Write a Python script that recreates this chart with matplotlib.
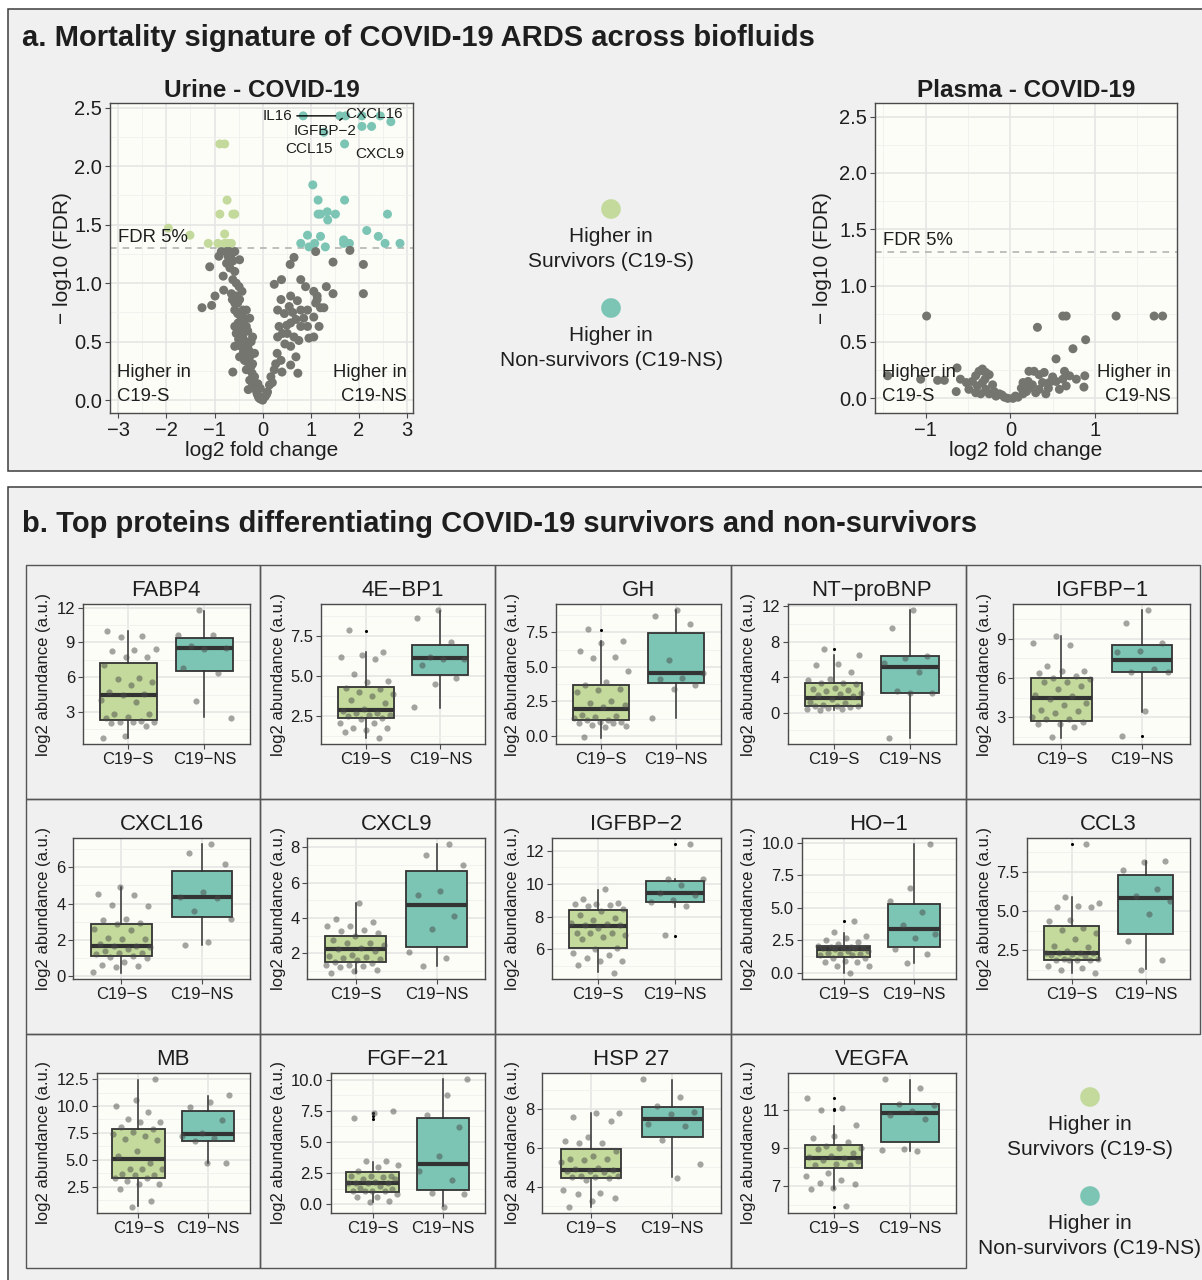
import numpy as np
import matplotlib
matplotlib.use("Agg")
import matplotlib.pyplot as plt
from matplotlib.patches import Rectangle
from matplotlib.ticker import FixedLocator, FormatStrFormatter

plt.rcParams['font.family'] = ['Liberation Sans', 'DejaVu Sans']

# ---------------- data: volcano plots (log2 fold change, -log10 FDR) ----------------
urine_points = [
    # higher in survivors
    (-1.96, 1.47), (-1.51, 1.41), (-1.13, 1.34), (-0.89, 2.19), (-0.79, 2.19), (-0.74, 1.71),
    (-0.89, 1.59), (-0.62, 1.59), (-0.58, 1.59), (-0.79, 1.42), (-0.93, 1.34), (-0.79, 1.34),
    (-0.65, 1.34), (-0.72, 1.34),
    # higher in non-survivors
    (0.84, 2.43), (1.60, 2.43), (1.72, 2.43), (2.06, 2.43), (2.44, 2.43), (2.06, 2.34), (2.26, 2.34),
    (2.66, 2.38), (1.27, 2.29), (1.70, 2.19), (1.04, 1.84), (1.15, 1.71), (1.70, 1.71), (1.15, 1.59),
    (1.20, 1.59), (1.34, 1.61), (1.51, 1.59), (1.35, 1.54), (2.59, 1.59), (0.93, 1.41), (1.20, 1.40),
    (2.16, 1.45), (2.40, 1.40), (0.79, 1.34), (1.08, 1.34), (1.30, 1.31), (1.68, 1.37), (1.68, 1.34),
    (1.80, 1.34), (2.54, 1.34), (2.85, 1.34), (0.96, 1.31),
    # not significant
    (-1.10, 1.14), (-1.26, 0.79), (-1.06, 0.81), (-0.99, 0.89), (-0.82, 1.06), (-0.81, 0.94),
    (-0.91, 1.23), (-0.86, 1.27), (-0.75, 1.27), (-0.69, 1.27), (-0.58, 1.27), (-0.72, 1.23),
    (-0.62, 1.19), (-0.48, 1.20), (-0.58, 1.10), (-0.62, 1.03), (-0.55, 1.00), (-0.49, 0.97),
    (-0.63, 0.86), (-0.58, 0.83), (-0.48, 0.86), (-0.58, 0.77), (-0.45, 0.71), (-0.38, 0.70),
    (-0.27, 0.70), (-0.41, 0.66), (-0.58, 0.63), (-0.55, 0.57), (-0.45, 0.60), (-0.34, 0.63),
    (-0.21, 0.54), (-0.41, 0.53), (-0.58, 0.46), (-0.45, 0.46), (-0.31, 0.46), (-0.48, 0.37),
    (-0.38, 0.34), (-0.27, 0.37), (-0.62, 0.24), (-0.34, 0.26), (-0.24, 0.29), (-0.27, 0.17),
    (-0.21, 0.13), (-0.14, 0.09), (-0.30, 0.09), (-0.10, 0.04), (-0.05, 0.01), (-0.17, 0.20),
    (-0.10, 0.14), (-0.41, 0.77), (-0.51, 0.66), (-0.65, 0.91), (-0.55, 0.89), (-0.34, 0.77),
    (-0.31, 0.59), (-0.24, 0.50), (-0.17, 0.40), (-0.21, 0.31), (-0.05, 0.10), (-0.68, 1.13),
    (-0.75, 1.17), (-0.52, 0.74), (-0.44, 0.56), (-0.36, 0.50), (-0.28, 0.42), (-0.22, 0.23),
    (-0.12, 0.06), (-0.08, 0.02), (-0.50, 0.52), (-0.40, 0.41), (-0.33, 0.33), (-0.66, 1.22),
    (-0.52, 0.83), (-0.46, 0.64), (-0.39, 0.58), (-0.30, 0.36), (-0.18, 0.16), (-0.43, 0.93),
    (0.00, 0.00), (0.05, 0.03), (0.10, 0.07), (0.14, 0.13), (0.17, 0.20), (0.24, 0.26), (0.27, 0.31),
    (0.38, 0.34), (0.58, 0.30), (0.73, 0.23), (0.69, 0.37), (0.58, 0.46), (0.31, 0.54), (0.41, 0.57),
    (0.51, 0.57), (0.65, 0.54), (0.75, 0.51), (0.34, 0.63), (0.58, 0.66), (0.69, 0.69), (0.79, 0.63),
    (0.93, 0.77), (1.06, 0.71), (1.17, 0.63), (0.96, 0.53), (1.06, 0.54), (0.31, 0.77), (0.45, 0.74),
    (0.55, 0.80), (0.38, 0.86), (0.58, 0.89), (0.24, 0.99), (0.39, 1.03), (0.79, 1.03), (0.89, 0.97),
    (0.57, 1.16), (0.65, 1.22), (1.10, 1.27), (1.06, 0.93), (1.13, 0.89), (1.10, 0.83), (1.20, 0.79),
    (1.27, 0.79), (1.13, 0.86), (1.32, 0.97), (1.46, 0.91), (1.46, 1.18), (1.81, 1.28), (2.09, 1.16),
    (2.09, 0.91), (0.79, 0.77), (0.93, 0.63), (0.08, 0.05), (0.20, 0.15), (0.30, 0.40), (0.46, 0.48),
    (0.50, 0.64), (0.62, 0.75), (0.72, 0.85), (0.85, 0.70), (0.40, 0.24),
]

plasma_points = [
    (-0.99, 0.73), (-1.45, 0.20), (-1.06, 0.17), (-0.86, 0.16), (-0.78, 0.16), (-0.63, 0.27),
    (-0.64, 0.06), (-0.59, 0.17), (-0.49, 0.08), (-0.45, 0.15), (-0.41, 0.20), (-0.37, 0.24),
    (-0.33, 0.26), (-0.29, 0.23), (-0.25, 0.21), (-0.33, 0.14), (-0.39, 0.11), (-0.29, 0.08),
    (-0.21, 0.12), (-0.19, 0.06), (-0.13, 0.04), (-0.07, 0.01), (-0.03, 0.00), (-0.52, 0.14),
    (-0.41, 0.05), (-0.25, 0.04), (-0.17, 0.02), (-0.35, 0.04), (-0.10, 0.03), (-0.30, 0.17),
    (0.03, 0.00), (0.09, 0.01), (0.15, 0.04), (0.19, 0.06), (0.22, 0.09), (0.15, 0.14), (0.22, 0.24),
    (0.28, 0.24), (0.34, 0.21), (0.40, 0.23), (0.32, 0.63), (0.46, 0.14), (0.42, 0.04), (0.34, 0.08),
    (0.26, 0.12), (0.38, 0.14), (0.54, 0.35), (0.62, 0.73), (0.66, 0.73), (0.64, 0.24), (0.62, 0.17),
    (0.58, 0.08), (0.54, 0.15), (0.50, 0.19), (0.74, 0.44), (0.89, 0.52), (0.88, 0.20), (0.87, 0.10),
    (0.78, 0.17), (1.25, 0.73), (1.70, 0.73), (1.80, 0.73), (0.66, 0.11), (0.13, 0.09), (0.21, 0.15),
    (0.06, 0.02), (0.30, 0.05), (0.45, 0.09), (0.70, 0.20),
]

# labelled genes in the urine volcano
urine_labels = ["IL16", "CXCL16", "IGFBP\u22122", "CCL15", "CXCL9"]
urine_label_pts = [(1.60, 2.43), (2.06, 2.43), (1.72, 2.43), (1.70, 2.19), (2.26, 2.34)]

# ---------------- data: boxplots (log2 abundance) ----------------
proteins = ["FABP4", "4E\u2212BP1", "GH", "NT\u2212proBNP", "IGFBP\u22121",
            "CXCL16", "CXCL9", "IGFBP\u22122", "HO\u22121", "CCL3",
            "MB", "FGF\u221221", "HSP 27", "VEGFA"]
groups = ["C19\u2212S", "C19\u2212NS"]

fabp4_s = [10.02, 9.56, 9.44, 8.43, 8.35, 8.29, 7.77, 7.74, 7.02, 5.93, 5.84, 5.55, 5.36, 4.72, 4.52,
           4.43, 4.03, 3.86, 2.85, 2.80, 2.60, 2.45, 2.22, 2.16, 2.16, 2.16, 2.02, 1.82, 0.93, 0.78]
fabp4_ns = [11.77, 9.67, 9.61, 8.69, 8.50, 8.43, 6.82, 6.39, 3.98, 2.48]
eb41_s = [7.85, 6.50, 6.29, 6.21, 6.06, 5.13, 4.67, 4.63, 4.23, 4.15, 3.98, 3.87, 3.73, 3.46, 3.31, 2.90,
          2.77, 2.69, 2.65, 2.52, 2.52, 2.48, 2.38, 2.31, 2.06, 2.06, 1.73, 1.73, 1.60, 1.46, 1.13]
eb41_ns = [9.10, 8.65, 7.13, 6.21, 6.08, 6.08, 5.65, 4.88, 4.52, 3.02]
gh_s = [7.72, 6.85, 6.73, 6.15, 5.72, 5.62, 4.68, 3.89, 3.67, 3.43, 3.36, 3.19, 2.56, 2.39, 2.25, 2.08,
        1.55, 1.48, 1.38, 1.28, 1.19, 1.19, 1.02, 1.02, 0.95, 0.95, 0.83, 0.70, 0.63, -0.10]
gh_ns = [9.09, 8.70, 8.10, 5.52, 4.58, 4.20, 4.13, 3.72, 3.40, 1.31]
bnp_s = [7.20, 6.53, 5.55, 5.33, 4.58, 3.83, 3.68, 3.38, 3.30, 3.19, 2.81, 2.63, 2.51, 2.44, 2.25, 2.06,
         1.99, 1.88, 1.50, 1.20, 1.13, 0.83, 0.75, 0.75, 0.75, 0.64, 0.56, 0.41, 0.41, 0.30]
bnp_ns = [11.55, 9.60, 6.38, 6.22, 5.63, 4.65, 2.40, 2.18, 2.18, -2.81]
igfbp1_s = [9.20, 8.67, 8.49, 6.90, 6.57, 6.52, 6.39, 6.14, 6.01, 5.94, 5.68, 5.68, 5.38, 5.18, 4.70,
            4.62, 4.37, 4.06, 3.91, 3.56, 3.48, 3.30, 3.05, 2.85, 2.85, 2.65, 2.52, 2.52, 2.29, 1.51]
igfbp1_ns = [11.15, 10.19, 8.67, 8.04, 7.99, 6.70, 6.49, 6.44, 3.46, 1.61]
cxcl16_s = [4.93, 4.50, 4.49, 3.92, 3.85, 3.15, 3.09, 2.91, 2.87, 2.61, 2.56, 2.13, 2.06, 2.06, 1.76,
            1.67, 1.64, 1.62, 1.49, 1.40, 1.30, 1.27, 1.21, 1.12, 1.08, 0.99, 0.79, 0.62, 0.55, 0.53, 0.22]
cxcl16_ns = [7.25, 6.77, 6.18, 4.66, 4.38, 4.29, 3.57, 3.15, 1.89, 1.73]
cxcl9_s = [4.86, 3.93, 3.76, 3.55, 3.53, 3.34, 3.28, 3.15, 2.98, 2.77, 2.58, 2.58, 2.49, 2.30, 2.24,
           2.15, 1.92, 1.86, 1.83, 1.77, 1.71, 1.64, 1.54, 1.48, 1.35, 1.35, 1.30, 1.26, 1.09, 1.01, 0.92]
cxcl9_ns = [8.17, 7.55, 7.00, 5.52, 5.31, 4.14, 3.40, 2.09, 1.73, 1.30]
igfbp2_s = [9.66, 9.09, 8.83, 8.75, 8.75, 8.69, 8.61, 8.48, 8.32, 8.08, 7.89, 7.79, 7.63, 7.57, 7.47,
            7.47, 7.33, 7.02, 6.98, 6.98, 6.90, 6.78, 6.65, 6.11, 6.04, 5.80, 5.64, 5.48, 5.33, 5.29,
            5.07, 4.60]
igfbp2_ns = [12.37, 10.27, 10.25, 9.91, 9.42, 9.30, 8.97, 8.85, 8.61, 6.88]
ho1_s = [4.00, 3.10, 2.84, 2.71, 2.51, 2.33, 2.20, 2.04, 1.99, 1.99, 1.89, 1.89, 1.89, 1.89, 1.81, 1.68,
         1.68, 1.52, 1.47, 1.42, 1.37, 1.34, 1.16, 1.16, 0.90, 0.83, 0.78, 0.52, 0.49, 0.00]
ho1_ns = [9.90, 6.54, 5.50, 4.68, 3.67, 2.97, 2.66, 1.81, 1.42, 0.72]
ccl3_s = [9.22, 5.91, 5.51, 5.30, 5.23, 5.23, 4.43, 4.39, 3.92, 3.81, 3.58, 3.22, 2.80, 2.69, 2.44, 2.37,
          2.31, 2.31, 2.31, 2.27, 2.22, 2.18, 1.95, 1.95, 1.91, 1.91, 1.91, 1.89, 1.50, 1.38, 1.27, 1.10]
ccl3_ns = [8.16, 8.09, 7.61, 6.38, 5.93, 5.66, 4.81, 3.11, 1.89, 1.27]
mb_s = [12.47, 10.59, 10.03, 9.41, 8.77, 8.55, 8.49, 8.06, 7.87, 7.62, 7.38, 7.25, 6.94, 6.88, 5.86,
        5.34, 4.72, 4.17, 4.17, 4.10, 3.70, 3.55, 3.55, 3.30, 3.27, 3.02, 2.75, 2.72, 2.31, 1.17, 0.65]
mb_ns = [11.02, 10.40, 9.88, 8.70, 7.50, 7.25, 7.07, 6.70, 4.66, 4.66]
fgf21_s = [7.48, 7.35, 6.89, 3.46, 3.46, 3.16, 2.98, 2.71, 2.31, 2.31, 2.23, 2.17, 2.04, 1.99, 1.77,
           1.74, 1.72, 1.69, 1.69, 1.50, 1.29, 1.23, 1.10, 1.05, 1.05, 1.05, 0.83, 0.56, 0.56, 0.29, 0.21]
fgf21_ns = [10.03, 8.77, 7.18, 6.17, 3.89, 2.65, 1.98, 0.91, 0.86, -0.19]
hsp27_s = [7.81, 7.79, 7.62, 7.40, 6.55, 6.36, 6.28, 6.28, 5.83, 5.57, 5.41, 5.41, 5.36, 5.29, 4.98,
           4.91, 4.86, 4.83, 4.79, 4.74, 4.57, 4.57, 4.52, 4.48, 4.45, 4.34, 3.84, 3.67, 3.64, 3.43,
           3.26, 2.97]
hsp27_ns = [9.55, 8.62, 8.19, 7.88, 7.76, 7.22, 7.12, 6.41, 5.17, 4.47]
vegfa_s = [11.66, 11.14, 11.03, 10.21, 9.64, 9.55, 9.34, 9.13, 9.03, 9.03, 8.96, 8.78, 8.59, 8.56, 8.47,
           8.38, 8.34, 8.20, 8.12, 8.12, 7.72, 7.56, 7.33, 7.17, 7.10, 6.90, 6.84, 5.95]
vegfa_ns = [12.64, 12.17, 11.33, 11.31, 10.97, 10.74, 10.56, 8.96, 8.90, 8.85]

points_s = [fabp4_s, eb41_s, gh_s, bnp_s, igfbp1_s, cxcl16_s, cxcl9_s, igfbp2_s, ho1_s, ccl3_s,
            mb_s, fgf21_s, hsp27_s, vegfa_s]
points_ns = [fabp4_ns, eb41_ns, gh_ns, bnp_ns, igfbp1_ns, cxcl16_ns, cxcl9_ns, igfbp2_ns, ho1_ns, ccl3_ns,
             mb_ns, fgf21_ns, hsp27_ns, vegfa_ns]

# box statistics (lower whisker, q1, median, q3, upper whisker)
box_s = [(0.78, 2.28, 4.49, 7.23, 9.99), (1.13, 2.33, 2.85, 4.31, 6.48), (-0.12, 1.16, 1.98, 3.69, 6.85),
         (0.30, 0.71, 1.65, 3.30, 6.49), (1.46, 2.75, 4.49, 6.01, 9.18), (0.20, 1.10, 1.69, 2.87, 4.90),
         (0.92, 1.54, 2.24, 3.00, 4.86), (4.62, 6.09, 7.43, 8.40, 9.62), (0.00, 1.19, 1.86, 2.07, 3.02),
         (1.10, 1.91, 2.35, 4.05, 5.87), (0.71, 3.27, 5.03, 7.90, 12.44), (0.16, 1.02, 1.69, 2.57, 3.38),
         (2.97, 4.47, 4.88, 5.93, 7.79), (6.84, 7.98, 8.47, 9.17, 10.18)]
box_ns = [(2.54, 6.51, 8.49, 9.38, 11.71), (3.00, 5.06, 6.10, 6.90, 9.08), (1.33, 3.81, 4.56, 7.45, 9.09),
          (-2.81, 2.21, 5.18, 6.38, 11.55), (3.41, 6.44, 7.35, 8.49, 11.15), (1.73, 3.24, 4.34, 5.80, 7.25),
          (1.30, 2.39, 4.74, 6.64, 8.17), (8.60, 8.85, 9.40, 10.15, 10.27), (0.72, 1.99, 3.36, 5.30, 9.90),
          (1.31, 3.54, 5.81, 7.31, 8.14), (4.66, 6.76, 7.38, 9.57, 10.90), (-0.16, 1.18, 3.27, 6.92, 10.03),
          (4.48, 6.57, 7.48, 8.10, 9.53), (8.85, 9.36, 10.86, 11.33, 12.62)]
outliers_s = [[], [7.83], [7.69], [7.16], [], [], [], [], [4.00], [9.22], [], [7.32, 7.08, 6.81], [],
              [11.65, 11.09, 11.00, 5.93]]
outliers_ns = [[], [], [], [], [1.56], [], [], [12.37, 6.84], [], [], [], [], [], []]

yticks_box = [["3", "6", "9", "12"], ["2.5", "5.0", "7.5"], ["0.0", "2.5", "5.0", "7.5"],
              ["0", "4", "8", "12"], ["3", "6", "9"], ["0", "2", "4", "6"], ["2", "4", "6", "8"],
              ["6", "8", "10", "12"], ["0.0", "2.5", "5.0", "7.5", "10.0"], ["2.5", "5.0", "7.5"],
              ["2.5", "5.0", "7.5", "10.0", "12.5"], ["0.0", "2.5", "5.0", "7.5", "10.0"],
              ["4", "6", "8"], ["7", "9", "11"]]

FDR_LINE = -np.log10(0.05)

# ---------------- style ----------------
GREEN = '#c3da9c'
TEAL = '#7cc5b5'
GREY = '#74756f'
PANEL_BG = '#fdfdf7'
SECTION_BG = '#f0f0f0'
GRID_MAJ = '#e4e4e4'
GRID_MIN = '#efefef'
INK = '#1e1e1e'

W, H = 1202, 1280
fig = plt.figure(figsize=(W / 100, H / 100), dpi=100, facecolor='white')


def px_axes(x0, y0, x1, y1, **kw):
    return fig.add_axes([x0 / W, 1 - y1 / H, (x1 - x0) / W, (y1 - y0) / H], **kw)


def overlay(z):
    ov = px_axes(0, 0, W, H, zorder=z)
    ov.set_xlim(0, W)
    ov.set_ylim(H, 0)
    ov.axis('off')
    return ov


under = overlay(0)

# section frames
for (x0, y0, x1, y1) in [(8, 9, 1212, 471), (8, 487, 1212, 1292)]:
    under.add_patch(Rectangle((x0, y0), x1 - x0, y1 - y0, fc=SECTION_BG, ec='#3c3c3c', lw=1.1))

under.text(22, 46, "a. Mortality signature of COVID-19 ARDS across biofluids",
           fontsize=21, weight='bold', color=INK, ha='left', va='baseline')
under.text(22, 532, "b. Top proteins differentiating COVID-19 survivors and non-survivors",
           fontsize=21, weight='bold', color=INK, ha='left', va='baseline')


def style_panel(ax, size):
    ax.set_facecolor(PANEL_BG)
    for s in ax.spines.values():
        s.set_color('#4a4a4a')
        s.set_linewidth(1.0)
    ax.tick_params(which='major', length=3.5, width=0.8, color='#4a4a4a',
                   labelsize=size, labelcolor=INK, pad=2)
    ax.tick_params(which='minor', length=0)
    ax.set_axisbelow(True)
    ax.grid(which='major', color=GRID_MAJ, lw=1.1)
    ax.grid(which='minor', color=GRID_MIN, lw=0.6)


def minor_between(ticks, lo, hi):
    step = ticks[1] - ticks[0]
    cand = [t - step / 2 for t in ticks] + [ticks[-1] + step / 2]
    return [c for c in cand if lo < c < hi]


def volcano(box, pts, xlim, ylim, xticks, yticks, title, ylab_x):
    ax = px_axes(*box, zorder=2)
    style_panel(ax, 14.5)
    arr = np.array(pts)
    x, y = arr[:, 0], arr[:, 1]
    sig = y > FDR_LINE
    cols = np.where(~sig, GREY, np.where(x < 0, GREEN, TEAL))
    ax.scatter(x, y, s=42, c=cols, lw=0, zorder=3)
    ax.axhline(FDR_LINE, ls=(0, (4, 3.5)), color='#b4b4b4', lw=1.2, zorder=2)
    ax.set_xlim(*xlim)
    ax.set_ylim(*ylim)
    ax.set_xticks(xticks)
    ax.set_yticks(yticks)
    ax.yaxis.set_major_formatter(FormatStrFormatter('%.1f'))
    ax.xaxis.set_minor_locator(FixedLocator(minor_between(xticks, *xlim)))
    ax.yaxis.set_minor_locator(FixedLocator(minor_between(yticks, *ylim)))
    cx = (box[0] + box[2]) / 2
    under.text(cx, 97, title, fontsize=17.5, weight='bold', color=INK, ha='center', va='baseline')
    under.text(cx, 456, "log2 fold change", fontsize=15, color=INK, ha='center', va='baseline')
    under.text(ylab_x, (box[1] + box[3]) / 2, "\u2212 log10 (FDR)", fontsize=15, color=INK,
               rotation=90, ha='center', va='center')
    return ax


urine_box = (110, 103, 413, 413)
plasma_box = (875, 103, 1177, 413)
ax_u = volcano(urine_box, urine_points, (-3.17, 3.12), (-0.11, 2.54),
               [-3, -2, -1, 0, 1, 2, 3], [0.0, 0.5, 1.0, 1.5, 2.0, 2.5], "Urine - COVID-19", 62)
ax_p = volcano(plasma_box, plasma_points, (-1.60, 1.97), (-0.13, 2.62),
               [-1, 0, 1], [0.0, 0.5, 1.0, 1.5, 2.0, 2.5], "Plasma - COVID-19", 822)

# gene labels (offsets in pixels from their point; segment drawn for displaced labels)
label_offsets = [(-62, 0, True), (12, 2, False), (-20, -15, True), (-36, -5, False), (8, -28, False)]
for name, (px_, py_), (dx, dy, seg) in zip(urine_labels, urine_label_pts, label_offsets):
    ax_u.annotate(name, xy=(px_, py_), xytext=(dx * 0.72, dy * 0.72), textcoords='offset points',
                  fontsize=11, color=INK, ha='center', va='center', zorder=5,
                  arrowprops=dict(arrowstyle='-', color='black', lw=1.0, shrinkA=1, shrinkB=3) if seg else None)

for ax, box in [(ax_u, urine_box), (ax_p, plasma_box)]:
    ax.text(8 / 303, FDR_LINE + 0.02, "FDR 5%", transform=ax.get_yaxis_transform(),
            fontsize=13.3, color=INK, ha='left', va='bottom', zorder=5)
    for txt, yb in [("Higher in", 0.115), ("C19-S", 0.04)]:
        ax.text(0.024, yb, txt, transform=ax.transAxes, fontsize=13.3, color=INK, ha='left',
                va='baseline', zorder=5)
    for txt, yb in [("Higher in", 0.115), ("C19-NS", 0.04)]:
        ax.text(0.98, yb, txt, transform=ax.transAxes, fontsize=13.3, color=INK, ha='right',
                va='baseline', zorder=5)


def legend_block(cx, y_dot1, y_dot2):
    under.scatter([cx, cx], [y_dot1, y_dot2], s=200, c=[GREEN, TEAL], lw=0, zorder=3)
    for txt, yb in [("Higher in", y_dot1 + 33), ("Survivors (C19-S)", y_dot1 + 58),
                    ("Higher in", y_dot2 + 33), ("Non-survivors (C19-NS)", y_dot2 + 58)]:
        under.text(cx, yb, txt, fontsize=15, color=INK, ha='center', va='baseline')


legend_block(611, 209, 308)
legend_block(1090, 1097, 1196)

# ---------------- boxplot grid ----------------
col_edges = [26, 260, 495, 731, 966, 1200]
row_edges = [565, 799, 1034, 1268]


def label_width(labels):
    return max(sum(9.3 if ch.isdigit() else 4.6 for ch in lab) for lab in labels)


for i, name in enumerate(proteins):
    r, c = divmod(i, 5)
    x0, x1 = col_edges[c], col_edges[c + 1]
    y0, y1 = row_edges[r], row_edges[r + 1]
    under.add_patch(Rectangle((x0, y0), x1 - x0, y1 - y0, fc='none', ec='#555555', lw=1.0, zorder=2))

    ticks = [float(t) for t in yticks_box[i]]
    left = x0 + 38 + label_width(yticks_box[i])
    box = (left, y0 + 39, x1 - 10, y1 - 55)
    ax = px_axes(*box, zorder=2)
    style_panel(ax, 12)

    s_vals, ns_vals = points_s[i], points_ns[i]
    allv = s_vals + ns_vals + list(box_s[i]) + list(box_ns[i]) + outliers_s[i] + outliers_ns[i]
    lo, hi = min(allv), max(allv)
    pad = 0.05 * (hi - lo)
    ylim = (lo - pad, hi + pad)

    stats = [dict(whislo=b[0], q1=b[1], med=b[2], q3=b[3], whishi=b[4], fliers=[])
             for b in (box_s[i], box_ns[i])]
    bp = ax.bxp(stats, positions=[1, 2], widths=0.75, patch_artist=True, showcaps=False,
                showfliers=False,
                boxprops=dict(edgecolor='#333333', linewidth=1.3),
                medianprops=dict(color='#333333', linewidth=3.0, solid_capstyle='butt'),
                whiskerprops=dict(color='#333333', linewidth=1.1))
    for patch, colr in zip(bp['boxes'], [GREEN, TEAL]):
        patch.set_facecolor(colr)

    for pos, outs in [(1, outliers_s[i]), (2, outliers_ns[i])]:
        if outs:
            ax.scatter([pos] * len(outs), outs, s=5, c='black', lw=0, zorder=4)

    for pos, vals, shift in [(1, s_vals, 0.13 + 0.07 * i), (2, ns_vals, 0.41 + 0.05 * i)]:
        k = np.arange(len(vals))
        jit = ((k * 0.618034 + shift) % 1.0 - 0.5) * 0.74
        ax.scatter(pos + jit, vals, s=20, c='#4a4a4a', alpha=0.5, lw=0, zorder=5)

    ax.set_xlim(0.4, 2.6)
    ax.set_ylim(*ylim)
    ax.set_xticks([1, 2])
    ax.set_xticklabels(groups)
    ax.set_yticks(ticks)
    ax.set_yticklabels(yticks_box[i])
    ax.yaxis.set_minor_locator(FixedLocator(minor_between(ticks, *ylim)))

    under.text((box[0] + box[2]) / 2, y0 + 31, name, fontsize=16, color=INK, ha='center', va='baseline')
    under.text(x0 + 18, (box[1] + box[3]) / 2, "log2 abundance (a.u.)", fontsize=12, color=INK,
               rotation=90, ha='center', va='center')

fig.savefig("out.png", dpi=100, facecolor='white')
